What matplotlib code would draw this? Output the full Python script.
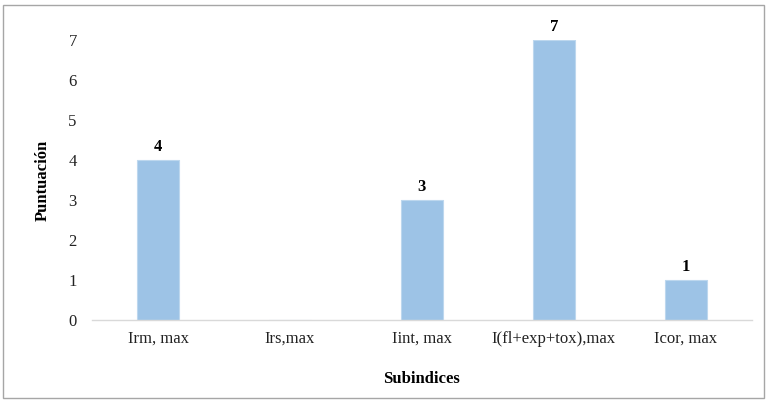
import matplotlib
matplotlib.use("Agg")
import matplotlib.pyplot as plt
from matplotlib.patches import Rectangle

categories = ["Irm, max", "Irs,max", "Iint, max", "I(fl+exp+tox),max", "Icor, max"]
values = [4, 0, 3, 7, 1]
value_labels = ["4", None, "3", "7", "1"]
yticks = [0, 1, 2, 3, 4, 5, 6, 7]

plt.rcParams["font.family"] = ["Liberation Serif", "DejaVu Serif"]

fig = plt.figure(figsize=(7.67, 4.0), dpi=100)
ax = fig.add_axes([0.12, 0.2, 0.86, 0.7])

x = list(range(len(categories)))
bars = ax.bar(x, values, width=0.32, color="#9DC3E6", edgecolor="#BDD7EE", linewidth=0.8, zorder=2)

for xi, v, lab in zip(x, values, value_labels):
    if lab is not None:
        ax.text(xi, v + 0.12, lab, ha="center", va="bottom", fontsize=12, fontweight="bold", clip_on=False)

ax.set_xlim(-0.5, len(categories) - 0.5)
ax.set_ylim(0, 7)
ax.set_yticks(yticks)
ax.set_xticks(x)
ax.set_xticklabels(categories, fontsize=12)
ax.tick_params(axis="both", length=0, labelsize=12, colors="#222222")
ax.tick_params(axis="y", pad=11)
ax.tick_params(axis="x", pad=8)

for side in ["top", "right", "left"]:
    ax.spines[side].set_visible(False)
ax.spines["bottom"].set_color("#D9D9D9")
ax.spines["bottom"].set_linewidth(1.0)

ax.set_ylabel("Puntuación", fontsize=12, fontweight="bold", labelpad=13)
ax.set_xlabel("Subindices", fontsize=12, fontweight="bold", labelpad=17)

fig.patches.append(Rectangle((0.004, 0.004), 0.992, 0.984, transform=fig.transFigure,
                             fill=False, edgecolor="#A6A6A6", linewidth=1.0))

fig.savefig("out.png", dpi=100)
